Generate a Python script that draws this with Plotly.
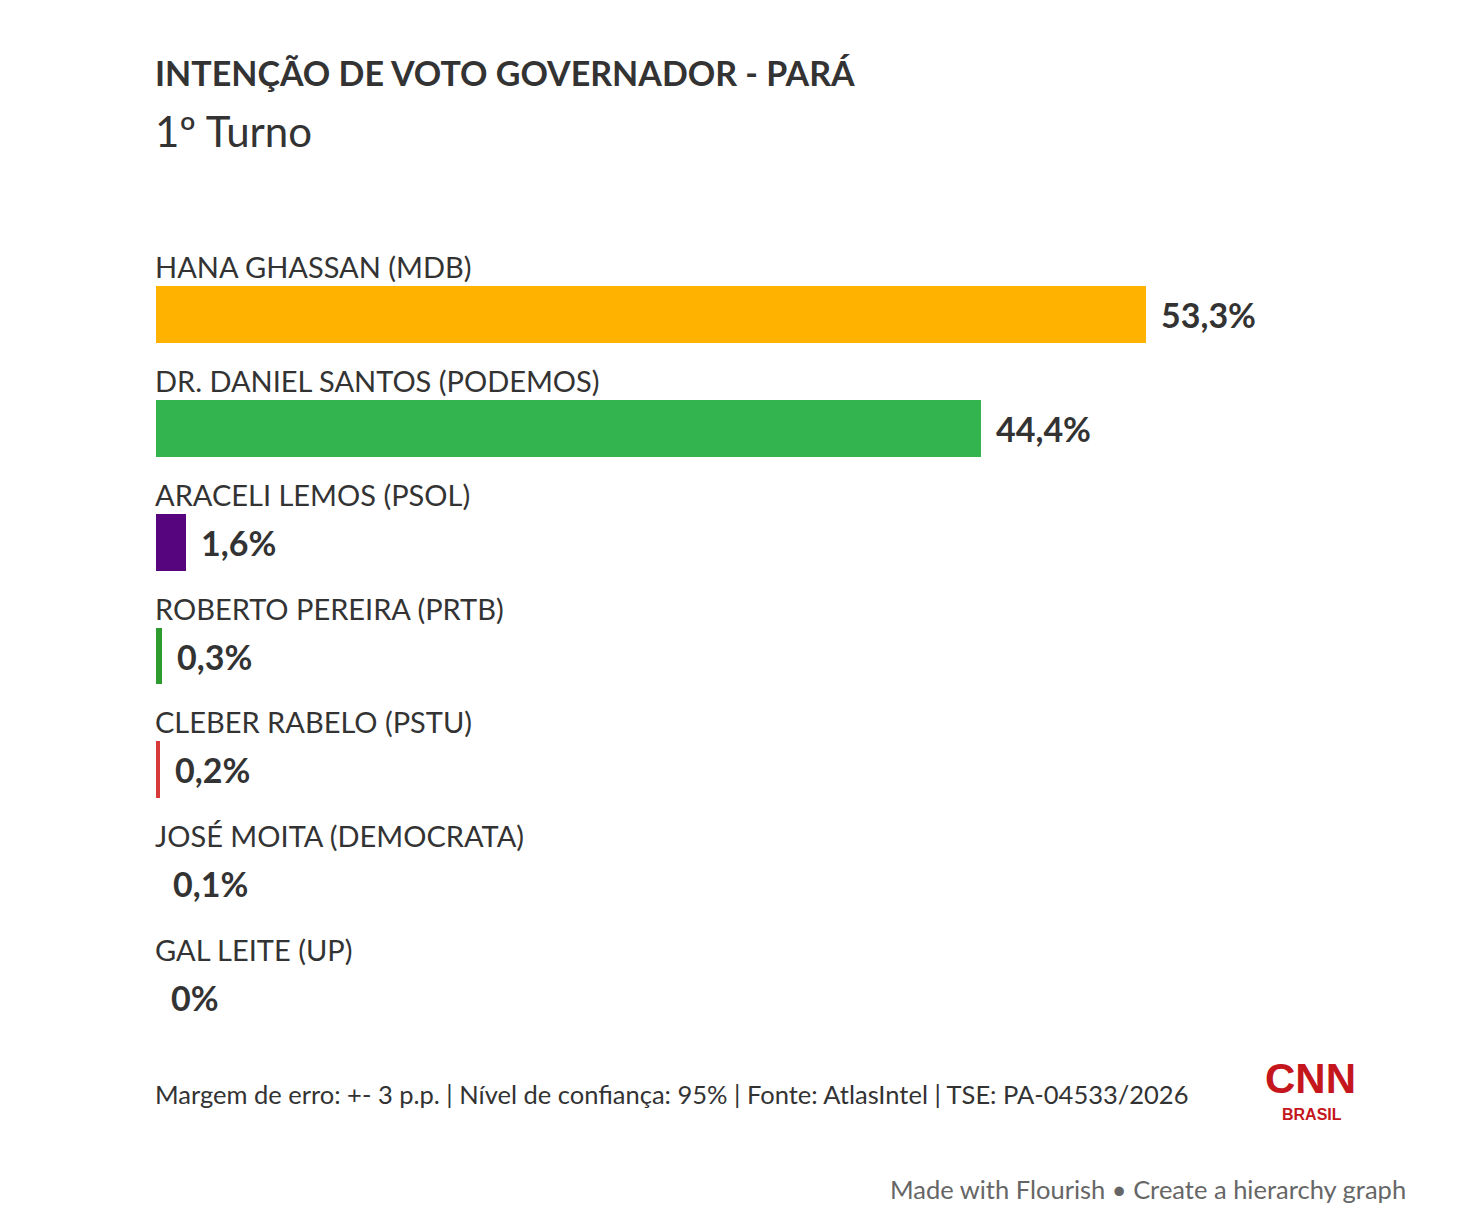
import plotly.graph_objects as go

names = ["HANA GHASSAN (MDB)", "DR. DANIEL SANTOS (PODEMOS)", "ARACELI LEMOS (PSOL)",
         "ROBERTO PEREIRA (PRTB)", "CLEBER RABELO (PSTU)", "JOSÉ MOITA (DEMOCRATA)", "GAL LEITE (UP)"]
values = [53.3, 44.4, 1.6, 0.3, 0.2, 0.1, 0.0]
colors = ["#FFB300", "#33B44F", "#57057F", "#2E9B2E", "#D83A3A", "#FFFFFF", "#FFFFFF"]

def fmt(v):
    return "0%" if v == 0 else f"{v:.1f}".replace(".", ",") + "%"

labels = [fmt(v) for v in values]
ypos = list(range(len(names)))

FONT = "Lato"
DARK = "#333333"

W, H = 1484, 1228
L, R, T, B = 156, 28, 258, 174
PW, PH = W - L - R, H - T - B

def px(x):
    return (x - L) / PW

def py(y):
    return (H - B - y) / PH

fig = go.Figure()
fig.add_trace(go.Bar(
    x=values, y=ypos, orientation="h", width=0.5,
    marker=dict(color=colors, line=dict(width=0)),
    hoverinfo="skip",
))

annotations = []
for n, v, lab, y in zip(names, values, labels, ypos):
    annotations.append(dict(x=0, y=y, xref="x", yref="y", text=n, showarrow=False,
                            xanchor="left", yanchor="middle", yshift=48, xshift=-3,
                            font=dict(family=FONT, size=29, color=DARK)))
    annotations.append(dict(x=v, y=y, xref="x", yref="y", text="<b>" + lab + "</b>", showarrow=False,
                            xanchor="left", yanchor="middle", xshift=13,
                            font=dict(family=FONT, size=34, color=DARK)))

annotations += [
    dict(x=px(153), y=py(73), xref="paper", yref="paper", xanchor="left", yanchor="middle",
         text="<b>INTENÇÃO DE VOTO GOVERNADOR - PARÁ</b>", showarrow=False,
         font=dict(family=FONT, size=34, color=DARK)),
    dict(x=px(153), y=py(131), xref="paper", yref="paper", xanchor="left", yanchor="middle",
         text="1º Turno", showarrow=False,
         font=dict(family=FONT, size=42, color=DARK)),
    dict(x=px(153), y=py(1094), xref="paper", yref="paper", xanchor="left", yanchor="middle",
         text="Margem de erro: +- 3 p.p. | Nível de confiança: 95% | Fonte: AtlasIntel | TSE: PA-04533/2026",
         showarrow=False, font=dict(family=FONT, size=25.5, color=DARK)),
    dict(x=px(1408), y=py(1189), xref="paper", yref="paper", xanchor="right", yanchor="middle",
         text="Made with Flourish • Create a hierarchy graph",
         showarrow=False, font=dict(family=FONT, size=25.5, color="#666666")),
    dict(x=px(1310), y=py(1078), xref="paper", yref="paper", xanchor="center", yanchor="middle",
         text="<b>CNN</b>", showarrow=False,
         font=dict(family="Liberation Sans", size=42, color="#C4161C")),
    dict(x=px(1312), y=py(1114), xref="paper", yref="paper", xanchor="center", yanchor="middle",
         text="<b>BRASIL</b>", showarrow=False,
         font=dict(family="Liberation Sans", size=16, color="#C4161C")),
]

fig.update_layout(
    width=W, height=H,
    margin=dict(l=L, r=R, t=T, b=B),
    paper_bgcolor="white", plot_bgcolor="white",
    showlegend=False,
    xaxis=dict(range=[0, 70], visible=False, fixedrange=True),
    yaxis=dict(range=[6.5, -0.5], visible=False, fixedrange=True),
    annotations=annotations,
    bargap=0,
)

fig.write_html("out.html", config={"displayModeBar": False},
               post_script="document.body.style.margin='0';")
